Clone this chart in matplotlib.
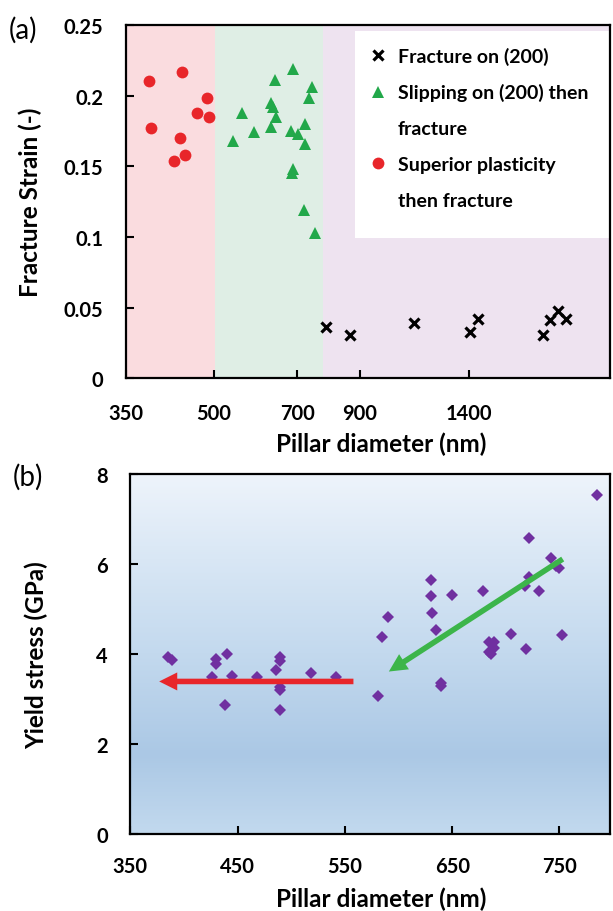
import matplotlib as mpl
mpl.use('Agg')
import matplotlib.pyplot as plt
import numpy as np
from matplotlib.colors import LinearSegmentedColormap
from matplotlib.ticker import NullLocator
from matplotlib.lines import Line2D
from matplotlib.patches import Rectangle

mpl.rcParams['font.family'] = ['Lato', 'DejaVu Sans']
mpl.rcParams['font.weight'] = 'bold'
mpl.rcParams['axes.labelweight'] = 'bold'

# ---- panel (a) data: fracture strain vs pillar diameter
frac_d = [785, 866, 1122, 1406, 1453, 1882, 1936, 2007, 2069]
frac_s = [0.036, 0.031, 0.039, 0.033, 0.042, 0.031, 0.041, 0.048, 0.042]

slip_d = [540, 559, 588, 629, 629, 634, 642, 639, 688, 681, 702, 722, 722,
          732, 743, 687, 684, 719, 751]
slip_s = [0.168, 0.188, 0.174, 0.178, 0.195, 0.192, 0.185, 0.211, 0.219,
          0.175, 0.173, 0.180, 0.166, 0.198, 0.206, 0.148, 0.145, 0.119, 0.103]

plast_d = [384, 439, 486, 466, 489, 388, 436, 445, 425]
plast_s = [0.210, 0.217, 0.198, 0.188, 0.185, 0.177, 0.170, 0.158, 0.154]

# regime boundaries (nm)
regions = [350, 502, 777, 2470]
region_colors = ['#fadcdf', '#dfeee5', '#eee3f0']

xticks_a = [350, 500, 700, 900, 1400]
yticks_a = [0, 0.05, 0.1, 0.15, 0.2, 0.25]
ylabels_a = ['0', '0.05', '0.1', '0.15', '0.2', '0.25']

# ---- panel (b) data: yield stress vs pillar diameter
yield_d = [385, 389, 430, 430, 440, 426, 445, 438, 468, 486, 490, 490, 490,
           490, 490, 518, 542, 581, 585, 590, 630, 630, 631, 635, 640, 640,
           650, 679, 684, 689, 686, 689, 684, 705, 719, 722, 722, 718, 731,
           742, 750, 747, 752, 785]
yield_s = [3.93, 3.87, 3.89, 3.78, 4.00, 3.50, 3.52, 2.87, 3.50, 3.65, 3.94,
           3.84, 3.27, 3.19, 2.76, 3.57, 3.48, 3.07, 4.38, 4.83, 5.64, 5.28,
           4.92, 4.54, 3.35, 3.30, 5.31, 5.39, 4.27, 4.27, 4.00, 4.13, 4.05,
           4.44, 4.10, 6.57, 5.71, 5.52, 5.41, 6.13, 5.91, 5.96, 4.42, 7.54]

red_arrow = [(558, 3.39), (377, 3.39)]    # tail, tip
green_arrow = [(753, 6.11), (591, 3.61)]

xticks_b = [350, 450, 550, 650, 750]
yticks_b = [0, 2, 4, 6, 8]

fig = plt.figure(figsize=(6.13, 9.12), dpi=100)

# ================= (a)
ax1 = fig.add_axes([0.205, 0.584, 0.79, 0.3876])
ax1.set_xscale('log')
for i in range(3):
    ax1.axvspan(regions[i], regions[i + 1], color=region_colors[i], lw=0, zorder=0)

hx, = ax1.plot(frac_d, frac_s, 'x', color='black', ms=7.5, mew=2.3,
               linestyle='None', zorder=3)
ht, = ax1.plot(slip_d, slip_s, '^', color='#22a84a', ms=9, mew=0,
               linestyle='None', zorder=3)
hc, = ax1.plot(plast_d, plast_s, 'o', color='#e8262a', ms=8.5, mew=0,
               linestyle='None', zorder=3)

ax1.set_xlim(regions[0], regions[-1])
ax1.set_ylim(0, 0.25)
ax1.set_xticks(xticks_a)
ax1.set_xticklabels([str(v) for v in xticks_a])
ax1.xaxis.set_minor_locator(NullLocator())
ax1.set_yticks(yticks_a)
ax1.set_yticklabels(ylabels_a)
ax1.tick_params(axis='both', which='major', direction='in', length=6, width=1.5,
                labelsize=14.5)
ax1.tick_params(axis='x', pad=18)
ax1.tick_params(axis='y', pad=16)
for sp in ax1.spines.values():
    sp.set_linewidth(1.6)
ax1.set_xlabel('Pillar diameter (nm)', fontsize=17.5)
ax1.set_ylabel('Fracture Strain (-)', fontsize=17.5)
ax1.xaxis.set_label_coords(0.527, -0.149)
ax1.yaxis.set_label_coords(-0.172, 0.5)

# white legend panel
ax1.add_patch(Rectangle((355 / 613, 1 - 239 / 912), 255 / 613, 207 / 912,
                        transform=fig.transFigure, facecolor='white',
                        edgecolor='none', zorder=2, clip_on=False))
blank = Line2D([], [], linestyle='None', marker='None')
leg = ax1.legend([hx, ht, blank, hc, blank],
                 ['Fracture on (200)', 'Slipping on (200) then', 'fracture',
                  'Superior plasticity', 'then fracture'],
                 loc='upper left', bbox_to_anchor=(368.5 / 613, 0.948),
                 bbox_transform=fig.transFigure, frameon=False, borderpad=0,
                 borderaxespad=0, fontsize=14, handlelength=1.0,
                 handletextpad=0.52, labelspacing=0.97)

fig.text(0.014, 0.9665, '(a)', fontsize=20, fontweight='normal', va='center')

# ================= (b)
ax2 = fig.add_axes([0.2124, 0.0844, 0.995 - 0.2124, 0.3948])
grad = LinearSegmentedColormap.from_list(
    'bg', [(0.0, '#c2d9ee'), (0.22, '#abc8e5'), (0.5, '#c3d9ee'),
           (0.8, '#dce9f6'), (1.0, '#eef4fb')])
ax2.imshow(np.linspace(0, 1, 256).reshape(-1, 1), cmap=grad, origin='lower',
           extent=[350, 797, 0, 8], aspect='auto', zorder=0)

ax2.plot(yield_d, yield_s, 'D', color='#7030a0', ms=6.3, mew=0,
         linestyle='None', zorder=3)

for arr, col in [(red_arrow, '#e8262a'), (green_arrow, '#3cb54a')]:
    ax2.annotate('', xy=arr[1], xytext=arr[0], zorder=4,
                 arrowprops=dict(arrowstyle='simple,head_length=0.65,head_width=0.65,tail_width=0.2',
                                 color=col, lw=0, mutation_scale=20,
                                 shrinkA=0, shrinkB=0))

ax2.set_xlim(350, 797)
ax2.set_ylim(0, 8)
ax2.set_xticks(xticks_b)
ax2.set_yticks(yticks_b)
ax2.tick_params(axis='both', which='major', direction='in', length=6, width=1.5,
                labelsize=14.5)
ax2.tick_params(axis='x', pad=16)
ax2.tick_params(axis='y', pad=16)
for sp in ax2.spines.values():
    sp.set_linewidth(1.6)
ax2.set_xlabel('Pillar diameter (nm)', fontsize=17.5)
ax2.set_ylabel('Yield stress (GPa)', fontsize=17.5)
ax2.xaxis.set_label_coords(0.523, -0.147)
ax2.yaxis.set_label_coords(-0.171, 0.5)

fig.text(0.021, 0.477, '(b)', fontsize=20, fontweight='normal', va='center')

plt.savefig('out.png', dpi=100)
